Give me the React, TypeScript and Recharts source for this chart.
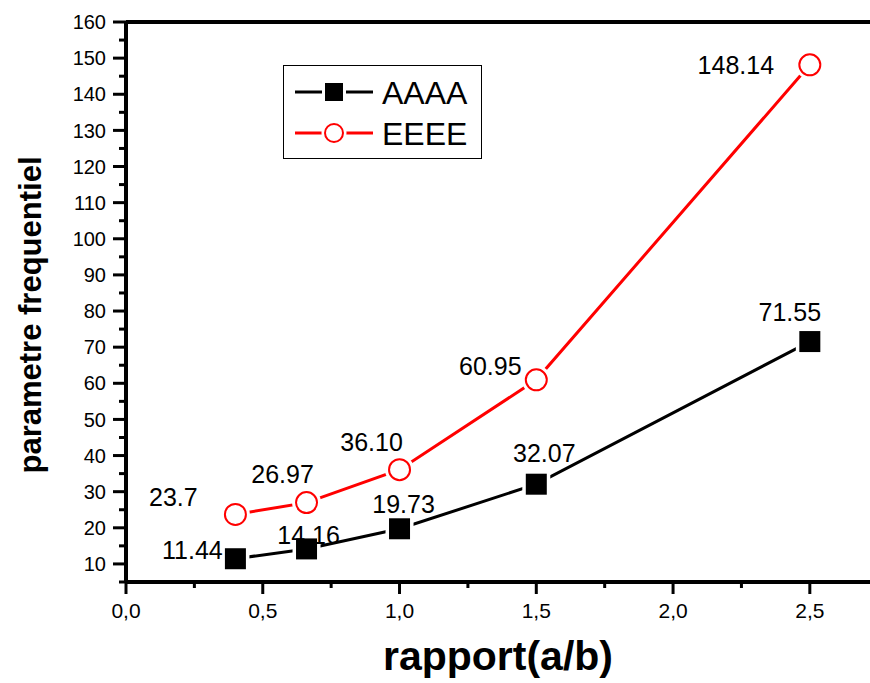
import React from "react"
import { LineChart, Line, XAxis, YAxis, ReferenceLine, Legend, Label } from "recharts"

const ratios = [0.4, 0.66, 1.0, 1.5, 2.5]
const aaaaValues = [11.44, 14.16, 19.73, 32.07, 71.55]
const eeeeValues = [23.7, 26.97, 36.1, 60.95, 148.14]
const aaaaLabels = ["11.44", "14.16", "19.73", "32.07", "71.55"]
const eeeeLabels = ["23.7", "26.97", "36.10", "60.95", "148.14"]

const xTicks = [0, 0.25, 0.5, 0.75, 1.0, 1.25, 1.5, 1.75, 2.0, 2.25, 2.5]
const yTicks = [5, 10, 15, 20, 25, 30, 35, 40, 45, 50, 55, 60, 65, 70, 75, 80, 85, 90, 95, 100, 105, 110, 115, 120, 125, 130, 135, 140, 145, 150, 155, 160]

// where each value label sits, relative to its marker
const aaaaOffsets = [[-43, -9], [2, -14], [4, -25], [8, -31], [-20, -30]]
const eeeeOffsets = [[-62, -17], [-24, -29], [-28, -28], [-46, -14], [-74, 0]]

const data = ratios.map((x, i) => ({ x, aaaa: aaaaValues[i], eeee: eeeeValues[i] }))

const FONT = "'Liberation Sans', Arial, sans-serif"

const XTick = ({ x, y, payload }: any) => {
  const v = payload.value
  const major = Math.abs(v * 2 - Math.round(v * 2)) < 1e-6
  return (
    <g>
      <line x1={x} x2={x} y1={y} y2={y + (major ? 12 : 6)} stroke="#000" strokeWidth={3} />
      {major && (
        <text x={x} y={y + 36} textAnchor="middle" fontSize={21} fontFamily={FONT} fill="#000">
          {v.toFixed(1).replace(".", ",")}
        </text>
      )}
    </g>
  )
}

const YTick = ({ x, y, payload }: any) => {
  const v = payload.value
  const major = v % 10 === 0
  return (
    <g>
      <line x1={x - (major ? 13 : 7)} x2={x} y1={y} y2={y} stroke="#000" strokeWidth={3} />
      {major && (
        <text x={x - 20} y={y} dy="0.36em" textAnchor="end" fontSize={20} fontFamily={FONT} fill="#000">
          {v}
        </text>
      )}
    </g>
  )
}

const squareDot = (props: any) => {
  const { cx, cy, index } = props
  const [dx, dy] = aaaaOffsets[index]
  return (
    <g key={`a-${index}`}>
      <rect x={cx - 14} y={cy - 14} width={28} height={28} fill="#fff" />
      <rect x={cx - 10.5} y={cy - 10.5} width={21} height={21} fill="#000" />
      <text x={cx + dx} y={cy + dy} dy="0.36em" textAnchor="middle" fontSize={25} fontFamily={FONT} fill="#000">
        {aaaaLabels[index]}
      </text>
    </g>
  )
}

const circleDot = (props: any) => {
  const { cx, cy, index } = props
  const [dx, dy] = eeeeOffsets[index]
  return (
    <g key={`e-${index}`}>
      <circle cx={cx} cy={cy} r={14.5} fill="#fff" />
      <circle cx={cx} cy={cy} r={10.5} fill="#fff" stroke="#ff0000" strokeWidth={2} />
      <text x={cx + dx} y={cy + dy} dy="0.36em" textAnchor="middle" fontSize={25} fontFamily={FONT} fill="#000">
        {eeeeLabels[index]}
      </text>
    </g>
  )
}

const LegendBox = () => (
  <div style={{ width: 199, height: 94, border: "1.5px solid #000", boxSizing: "border-box", background: "#fff" }}>
    <svg width={196} height={91} style={{ display: "block" }}>
      <line x1={11} x2={89} y1={26} y2={26} stroke="#000" strokeWidth={3} />
      <rect x={41} y={17} width={18} height={18} fill="#fff" stroke="#fff" strokeWidth={6} />
      <rect x={41} y={17} width={18} height={18} fill="#000" />
      <text x={98} y={26} dy="0.36em" fontSize={32} fontFamily={FONT} fill="#000">AAAA</text>
      <line x1={11} x2={89} y1={67} y2={67} stroke="#ff0000" strokeWidth={3} />
      <circle cx={50} cy={67} r={12.5} fill="#fff" />
      <circle cx={50} cy={67} r={9} fill="#fff" stroke="#ff0000" strokeWidth={2} />
      <text x={98} y={67} dy="0.36em" fontSize={32} fontFamily={FONT} fill="#000">EEEE</text>
    </svg>
  </div>
)

export default function App() {
  return (
    <div>
      <style>{`body{margin:0;background:#fff}`}</style>
      <LineChart width={870} height={683} data={data} margin={{ top: 22, right: 0, bottom: 0, left: 0 }}>
        <XAxis
          type="number"
          dataKey="x"
          domain={[0, 2.72]}
          allowDataOverflow
          ticks={xTicks}
          interval={0}
          height={101}
          tickLine={false}
          tickSize={0}
          tickMargin={0}
          tick={<XTick />}
          axisLine={{ stroke: "#000", strokeWidth: 4 }}
        >
          <Label
            content={({ viewBox }: any) => (
              <text x={viewBox.x + viewBox.width / 2} y={viewBox.y + 88} textAnchor="middle" fontSize={41} fontWeight="bold" fontFamily={FONT} fill="#000">
                rapport(a/b)
              </text>
            )}
          />
        </XAxis>
        <YAxis
          type="number"
          domain={[5, 160]}
          allowDataOverflow
          ticks={yTicks}
          interval={0}
          width={126}
          tickLine={false}
          tickSize={0}
          tickMargin={0}
          tick={<YTick />}
          axisLine={{ stroke: "#000", strokeWidth: 4 }}
        >
          <Label
            content={({ viewBox }: any) => {
              const cx = 30
              const cy = viewBox.y + viewBox.height / 2 + 13
              return (
                <text x={cx} y={cy} dy="0.36em" transform={`rotate(-90 ${cx} ${cy})`} textAnchor="middle" fontSize={31} fontWeight="bold" fontFamily={FONT} fill="#000">
                  parametre frequentiel
                </text>
              )
            }}
          />
        </YAxis>
        <ReferenceLine y={160} stroke="#000" strokeWidth={4} />
        <Legend
          layout="vertical"
          align="center"
          verticalAlign="middle"
          wrapperStyle={{ left: 283, top: 65, width: 199, height: 94 }}
          content={() => <LegendBox />}
        />
        <Line
          name="AAAA"
          dataKey="aaaa"
          stroke="#000"
          strokeWidth={3}
          dot={squareDot}
          activeDot={false}
          isAnimationActive={false}
        />
        <Line
          name="EEEE"
          dataKey="eeee"
          stroke="#ff0000"
          strokeWidth={3}
          dot={circleDot}
          activeDot={false}
          isAnimationActive={false}
        />
      </LineChart>
    </div>
  )
}
